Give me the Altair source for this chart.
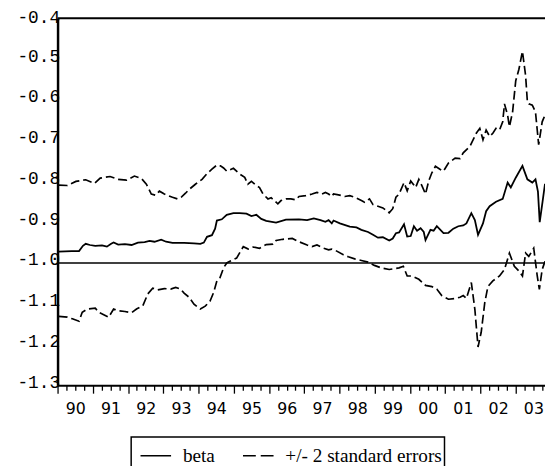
import altair as alt
import pandas as pd

# ---- data (decimal year, coefficient) ----
beta_t = [1990.03, 1990.40, 1990.61, 1990.72, 1990.80, 1990.92, 1991.07, 1991.26, 1991.40, 1991.52,
          1991.59, 1991.72, 1991.91, 1992.10, 1992.28, 1992.47, 1992.61, 1992.75, 1992.94, 1993.08,
          1993.26, 1993.59, 1993.87, 1994.05, 1994.15, 1994.24, 1994.38, 1994.47, 1994.52, 1994.66,
          1994.80, 1994.99, 1995.17, 1995.36, 1995.50, 1995.64, 1995.78, 1995.92, 1996.20, 1996.48,
          1996.85, 1997.08, 1997.27, 1997.46, 1997.60, 1997.69, 1997.78, 1997.83, 1998.01, 1998.29,
          1998.48, 1998.62, 1998.81, 1998.95, 1999.09, 1999.23, 1999.41, 1999.51, 1999.60, 1999.69,
          1999.83, 1999.92, 2000.02, 2000.11, 2000.20, 2000.30, 2000.39, 2000.44, 2000.58, 2000.67,
          2000.76, 2000.95, 2001.09, 2001.23, 2001.37, 2001.51, 2001.60, 2001.74, 2001.84, 2001.93,
          2002.07, 2002.16, 2002.26, 2002.44, 2002.63, 2002.77, 2002.86, 2003.00, 2003.19, 2003.33,
          2003.47, 2003.56, 2003.63, 2003.68, 2003.76, 2003.83]
beta_v = [-0.972, -0.971, -0.971, -0.958, -0.953, -0.956, -0.958, -0.957, -0.960, -0.953,
          -0.950, -0.955, -0.954, -0.956, -0.950, -0.949, -0.946, -0.948, -0.943, -0.948,
          -0.951, -0.951, -0.952, -0.953, -0.950, -0.936, -0.932, -0.916, -0.896, -0.893,
          -0.882, -0.878, -0.878, -0.879, -0.885, -0.882, -0.892, -0.897, -0.901, -0.894,
          -0.893, -0.895, -0.891, -0.895, -0.899, -0.895, -0.903, -0.896, -0.903, -0.911,
          -0.913, -0.919, -0.924, -0.931, -0.938, -0.937, -0.945, -0.940, -0.927, -0.925,
          -0.905, -0.935, -0.934, -0.910, -0.921, -0.915, -0.924, -0.944, -0.919, -0.921,
          -0.910, -0.927, -0.926, -0.916, -0.910, -0.908, -0.903, -0.878, -0.895, -0.931,
          -0.903, -0.873, -0.861, -0.850, -0.843, -0.803, -0.815, -0.791, -0.762, -0.795,
          -0.803, -0.795, -0.825, -0.900, -0.850, -0.806]

upper_t = [1990.03, 1990.28, 1990.52, 1990.80, 1991.05, 1991.21, 1991.49, 1991.72, 1991.96, 1992.18,
           1992.38, 1992.52, 1992.66, 1992.78, 1992.89, 1993.03, 1993.26, 1993.40, 1993.52, 1993.63,
           1993.73, 1993.91, 1994.10, 1994.24, 1994.38, 1994.52, 1994.62, 1994.71, 1994.80, 1994.99,
           1995.17, 1995.31, 1995.40, 1995.50, 1995.64, 1995.73, 1995.83, 1995.97, 1996.06, 1996.15,
           1996.25, 1996.34, 1996.48, 1996.62, 1996.76, 1996.85, 1997.04, 1997.22, 1997.36, 1997.50,
           1997.60, 1997.69, 1997.78, 1997.83, 1997.97, 1998.15, 1998.29, 1998.43, 1998.62, 1998.71,
           1998.85, 1998.95, 1999.09, 1999.23, 1999.41, 1999.51, 1999.55, 1999.60, 1999.69, 1999.83,
           1999.92, 2000.02, 2000.16, 2000.25, 2000.34, 2000.44, 2000.53, 2000.62, 2000.72, 2000.86,
           2000.95, 2001.09, 2001.28, 2001.42, 2001.51, 2001.70, 2001.88, 2001.98, 2002.07, 2002.16,
           2002.26, 2002.35, 2002.44, 2002.54, 2002.63, 2002.68, 2002.77, 2002.82, 2002.91, 2003.00,
           2003.09, 2003.19, 2003.28, 2003.33, 2003.37, 2003.47, 2003.56, 2003.65, 2003.75, 2003.83]
upper_v = [-0.809, -0.810, -0.800, -0.796, -0.805, -0.792, -0.788, -0.795, -0.797, -0.787,
           -0.793, -0.807, -0.831, -0.834, -0.824, -0.831, -0.839, -0.843, -0.838, -0.829,
           -0.820, -0.807, -0.795, -0.781, -0.770, -0.760, -0.762, -0.767, -0.775, -0.768,
           -0.782, -0.790, -0.807, -0.800, -0.810, -0.815, -0.831, -0.843, -0.840, -0.847,
           -0.855, -0.847, -0.843, -0.843, -0.845, -0.837, -0.835, -0.831, -0.827, -0.831,
           -0.827, -0.831, -0.837, -0.831, -0.833, -0.837, -0.835, -0.839, -0.847, -0.851,
           -0.843, -0.857, -0.861, -0.865, -0.877, -0.867, -0.855, -0.839, -0.831, -0.803,
           -0.823, -0.799, -0.815, -0.795, -0.811, -0.831, -0.799, -0.779, -0.763, -0.771,
           -0.775, -0.755, -0.743, -0.744, -0.730, -0.714, -0.682, -0.670, -0.698, -0.674,
           -0.690, -0.682, -0.670, -0.674, -0.654, -0.610, -0.638, -0.666, -0.630, -0.553,
           -0.525, -0.481, -0.541, -0.605, -0.610, -0.613, -0.630, -0.710, -0.654, -0.637]

lower_t = [1990.03, 1990.28, 1990.42, 1990.61, 1990.70, 1990.84, 1991.07, 1991.17, 1991.31, 1991.45,
           1991.59, 1991.72, 1991.91, 1992.10, 1992.24, 1992.42, 1992.56, 1992.70, 1992.84, 1993.03,
           1993.21, 1993.35, 1993.49, 1993.59, 1993.73, 1993.87, 1994.05, 1994.19, 1994.33, 1994.43,
           1994.52, 1994.61, 1994.71, 1994.80, 1994.89, 1995.08, 1995.27, 1995.41, 1995.55, 1995.73,
           1995.92, 1996.11, 1996.20, 1996.39, 1996.66, 1996.85, 1997.08, 1997.22, 1997.36, 1997.55,
           1997.69, 1997.78, 1997.88, 1998.11, 1998.25, 1998.43, 1998.62, 1998.81, 1998.99, 1999.18,
           1999.41, 1999.55, 1999.69, 1999.81, 1999.92, 2000.06, 2000.25, 2000.44, 2000.62, 2000.76,
           2000.90, 2001.09, 2001.28, 2001.42, 2001.51, 2001.60, 2001.74, 2001.84, 2001.93, 2002.02,
           2002.12, 2002.21, 2002.35, 2002.54, 2002.68, 2002.82, 2002.96, 2003.09, 2003.19, 2003.28,
           2003.37, 2003.51, 2003.61, 2003.67, 2003.75, 2003.83]
lower_v = [-1.131, -1.133, -1.137, -1.143, -1.121, -1.113, -1.111, -1.121, -1.127, -1.133,
           -1.113, -1.117, -1.119, -1.122, -1.113, -1.105, -1.076, -1.062, -1.066, -1.063,
           -1.064, -1.060, -1.064, -1.074, -1.084, -1.101, -1.113, -1.106, -1.093, -1.072,
           -1.044, -1.036, -1.012, -1.000, -0.996, -0.988, -0.960, -0.966, -0.961, -0.964,
           -0.955, -0.954, -0.945, -0.942, -0.940, -0.948, -0.956, -0.960, -0.956, -0.964,
           -0.968, -0.966, -0.969, -0.980, -0.985, -0.990, -0.994, -0.998, -1.006, -1.012,
           -1.016, -1.014, -1.012, -1.008, -1.032, -1.032, -1.040, -1.055, -1.058, -1.064,
           -1.080, -1.089, -1.087, -1.084, -1.080, -1.087, -1.048, -1.114, -1.206, -1.170,
           -1.098, -1.058, -1.044, -1.032, -1.016, -0.976, -1.008, -1.020, -1.032, -0.976,
           -0.984, -0.964, -1.032, -1.065, -1.016, -0.996]

legend_labels = ["beta", "+/- 2 standard errors"]
y_ticks = [-1.3, -1.2, -1.1, -1.0, -0.9, -0.8, -0.7, -0.6, -0.5, -0.4]
x_ticks = [1990 + q / 4 for q in range(56)]  # quarterly tick marks
reference_value = -1.0
top_value = -0.4

# ---- tables ----
beta_df = pd.DataFrame({"t": beta_t, "v": beta_v})
band_df = pd.concat([
    pd.DataFrame({"t": upper_t, "v": upper_v, "s": "upper"}),
    pd.DataFrame({"t": lower_t, "v": lower_v, "s": "lower"}),
])
legend_df = pd.DataFrame({
    "t": [1980, 1981, 1980, 1981],
    "v": [-1.0, -1.0, -1.0, -1.0],
    "lg": [legend_labels[0], legend_labels[0], legend_labels[1], legend_labels[1]],
})
one_row = pd.DataFrame({"a": [0]})

x_scale = alt.Scale(domain=[1990, 2003.83], nice=False, zero=False)
y_scale = alt.Scale(domain=[-1.3, -0.4], nice=False, zero=False)

x_axis = alt.Axis(
    values=x_ticks,
    tickSize={"condition": {"test": "datum.value % 1 === 0", "value": 8}, "value": 5},
    labelExpr="datum.value % 1 === 0 ? format(datum.value % 100, '02d') : ''",
    labelOffset=17.9, labelPadding=8,
    labelFont="DejaVu Sans", labelFontSize=16, labelColor="black",
    labelFlush=False, labelOverlap=False, labelBound=False,
    domainColor="black", domainWidth=2, tickColor="black", tickWidth=1.3,
    grid=False, title=None,
)
y_axis = alt.Axis(
    values=y_ticks, ticks=False,
    labelExpr="(datum.value < 0 ? '-' : '') + format(abs(datum.value), '.1f')",
    labelFont="Liberation Mono", labelFontSize=18, labelColor="black",
    labelPadding=-2, labelBaseline="alphabetic",
    labelOffset={"condition": {"test": "datum.value > -0.45", "value": 4.5}, "value": 2},
    labelAlign="right",
    labelFlush=False, labelOverlap=False, labelBound=False,
    domainColor="black", domainWidth=2.5, grid=False, title=None,
)

X = alt.X("t:Q", scale=x_scale, axis=x_axis)
Y = alt.Y("v:Q", scale=y_scale, axis=y_axis)

ref_rule = alt.Chart(one_row).mark_rule(color="black", strokeWidth=1.5).encode(
    y=alt.YDatum(reference_value, type="quantitative", scale=y_scale)
)
top_rule = alt.Chart(one_row).mark_rule(color="black", strokeWidth=2.2).encode(
    y=alt.YDatum(top_value, type="quantitative", scale=y_scale)
)
beta_line = alt.Chart(beta_df).mark_line(color="black", strokeWidth=1.8).encode(x=X, y=Y)
band_lines = alt.Chart(band_df).mark_line(
    color="black", strokeWidth=1.7, strokeDash=[9, 4]
).encode(x=X, y=Y, detail="s:N")

legend_layer = alt.Chart(legend_df).mark_line(color="black", clip=True, strokeWidth=1.5).encode(
    x=X, y=Y,
    strokeDash=alt.StrokeDash(
        "lg:N",
        scale=alt.Scale(domain=legend_labels, range=[[1, 0], [13, 5]]),
        legend=alt.Legend(
            title=None, orient="none", legendX=74.7, legendY=425,
            direction="horizontal", symbolType="stroke", symbolSize=961,
            symbolStrokeWidth=1.5, symbolStrokeColor="black", symbolOffset=6,
            labelFont="Liberation Serif", labelFontSize=19.5, labelColor="black",
            labelOffset=11, labelLimit=500, columnPadding=21, padding=2.5,
            strokeColor="black",
        ),
    ),
)

chart = alt.layer(top_rule, ref_rule, band_lines, beta_line, legend_layer).properties(
    width=494.7, height=372.5,
    autosize=alt.AutoSizeParams(type="none"),
    padding={"left": 50.3, "top": 7, "right": 0, "bottom": 78.5},
    background="white",
).configure_view(strokeWidth=0).configure_legend(strokeWidth=1.5)

chart.save("out.html", embed_options={"renderer": "svg", "actions": False})
